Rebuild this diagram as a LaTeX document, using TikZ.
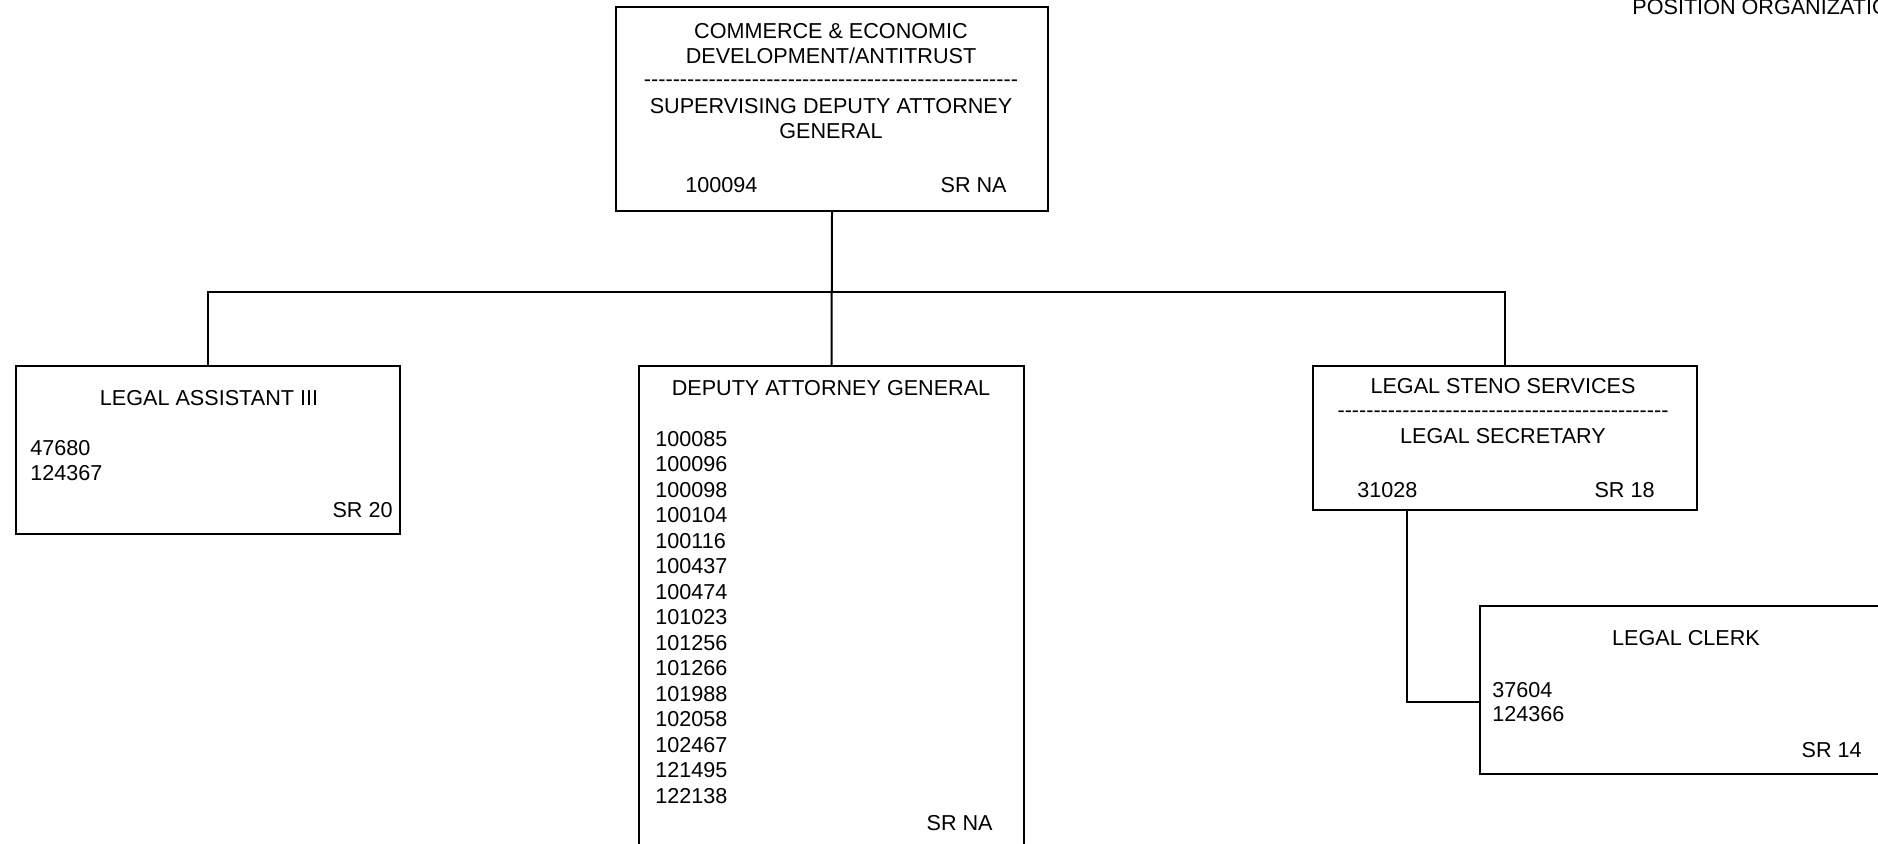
\documentclass[tikz,border=0pt]{standalone}
\usepackage{fontspec}
\setmainfont{Liberation Sans}
\newcommand\hyrow[1]{\foreach \k in {1,...,#1}{-}}
\begin{document}
\begin{tikzpicture}[x=0.5pt,y=-0.5pt,
  box/.style={draw=black,line width=1pt,rectangle,inner sep=0pt,anchor=north west},
  txt/.style={inner sep=0pt,font=\fontsize{10.8}{12.75}\selectfont},
  conn/.style={draw=black,line width=1pt}]
\useasboundingbox (0,0) rectangle (1878,843);
\clip (0,0) rectangle (1878,843);
% boxes
\node[box,minimum width=216pt,minimum height=102pt] (top) at (615,6) {};
\node[box,minimum width=192pt,minimum height=84pt] (la) at (15,365) {};
\node[box,minimum width=192.5pt,minimum height=257.5pt] (dag) at (638,365) {};
\node[box,minimum width=192pt,minimum height=72pt] (steno) at (1312,365) {};
\node[box,minimum width=205.5pt,minimum height=84pt] (clerk) at (1479,605) {};
% header text
\node[txt,anchor=base west] (hdr) at (1632,14) {POSITION ORGANIZATION};
% top box text
\node[txt,anchor=base] (t1) at (831,38) {COMMERCE \& ECONOMIC};
\node[txt,anchor=base] (t2) at (831,63) {DEVELOPMENT/ANTITRUST};
\node[txt,anchor=base] (t3) at (831,86) {\hyrow{52}};
\node[txt,anchor=base] (t4) at (831,113) {SUPERVISING DEPUTY ATTORNEY};
\node[txt,anchor=base] (t5) at (831,138) {GENERAL};
\node[txt,anchor=base west] (t6) at (685,192) {100094};
\node[txt,anchor=base east] (t7) at (1007,192) {SR NA};
% legal assistant
\node[txt,anchor=base] (la1) at (209,405) {LEGAL ASSISTANT III};
\node[txt,anchor=base west] (la2) at (30,455) {47680};
\node[txt,anchor=base west] (la3) at (30,480) {124367};
\node[txt,anchor=base east] (la4) at (393,517) {SR 20};
% deputy attorney general
\node[txt,anchor=base] (dg0) at (831,395) {DEPUTY ATTORNEY GENERAL};
\foreach \n [count=\i] in {100085,100096,100098,100104,100116,100437,100474,101023,101256,101266,101988,102058,102467,121495,122138}
  \node[txt,anchor=base west] (dg\i) at (655,{446+25.5*(\i-1)}) {\n};
\node[txt,anchor=base east] (dgsr) at (993,830) {SR NA};
% legal steno
\node[txt,anchor=base] (s1) at (1503,393) {LEGAL STENO SERVICES};
\node[txt,anchor=base] (s2) at (1503,417) {\hyrow{46}};
\node[txt,anchor=base] (s3) at (1503,443) {LEGAL SECRETARY};
\node[txt,anchor=base west] (s4) at (1357,497) {31028};
\node[txt,anchor=base east] (s5) at (1655,497) {SR 18};
% legal clerk
\node[txt,anchor=base] (c1) at (1686,645) {LEGAL CLERK};
\node[txt,anchor=base west] (c2) at (1492,697) {37604};
\node[txt,anchor=base west] (c3) at (1492,721) {124366};
\node[txt,anchor=base east] (c4) at (1862,757) {SR 14};
% connectors
\coordinate (bus) at (831,292);
\coordinate (sc) at (1407,702);
\draw[conn] (top.south) -- (dag.north);
\draw[conn] (la.north) |- (bus) -| (steno.north);
\draw[conn] (sc |- steno.south) -- (sc) -- (sc -| clerk.west);
\end{tikzpicture}
\end{document}
